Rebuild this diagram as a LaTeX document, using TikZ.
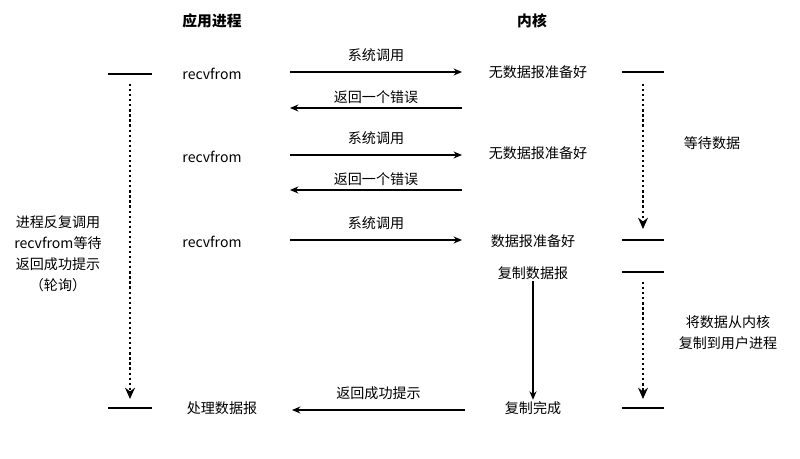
\documentclass[tikz,border=0pt]{standalone}
\usepackage{fontspec}
\setmainfont{Noto Sans CJK SC}
\usetikzlibrary{arrows.meta}
\begin{document}
\begin{tikzpicture}[x=0.025cm,y=-0.025cm,
  lbl/.style={font=\fontsize{10}{12}\selectfont,inner sep=1pt},
  hd/.style={font=\fontsize{10.5}{12}\selectfont\bfseries},
  tick/.style={line width=1pt},
  msg/.style={line width=0.8pt,-{Stealth[length=6pt,width=5pt]}},
  wait/.style={line width=1.6pt,dotted,-{Stealth[length=8pt,width=7pt]}}]
\useasboundingbox (0,0) rectangle (800,459);
\node[hd] (h1) at (212,21) {应用进程};
\node[hd] (h2) at (532,21) {内核};
% ticks
\coordinate (l1a) at (108,74); \coordinate (l1b) at (152,74);
\coordinate (l2a) at (108,408); \coordinate (l2b) at (152,408);
\draw[tick] (l1a) -- (l1b); \draw[tick] (l2a) -- (l2b);
\coordinate (r1a) at (622,72); \coordinate (r1b) at (664,72);
\coordinate (r2a) at (622,240); \coordinate (r2b) at (664,240);
\coordinate (r3a) at (622,272); \coordinate (r3b) at (664,272);
\coordinate (r4a) at (622,408); \coordinate (r4b) at (664,408);
\foreach \n in {1,2,3,4}{\draw[tick] (r\n a) -- (r\n b);}
% waits
\coordinate (w1s) at (130,84); \coordinate (w1e) at (130,399);
\coordinate (w2s) at (643,84); \coordinate (w2e) at (643,229);
\coordinate (w3s) at (643,282); \coordinate (w3e) at (643,399);
\draw[wait] (w1s) -- (w1e);
\draw[wait] (w2s) -- (w2e);
\draw[wait] (w3s) -- (w3e);
% left texts
\node[lbl] (a1) at (212,74) {recvfrom};
\node[lbl] (a2) at (212,157) {recvfrom};
\node[lbl] (a3) at (212,242) {recvfrom};
\node[lbl] (a4) at (222,408) {处理数据报};
\node[lbl,align=center] (poll) at (58,254) {进程反复调用\\[3pt]recvfrom等待\\[3pt]返回成功提示\\[3pt]（轮询）};
% right texts
\node[lbl] (k1) at (538,72) {无数据报准备好};
\node[lbl] (k2) at (538,153) {无数据报准备好};
\node[lbl] (k3) at (533,241) {数据报准备好};
\node[lbl] (k4) at (533,273) {复制数据报};
\node[lbl] (k5) at (533,408) {复制完成};
\node[lbl] (wd) at (712,143) {等待数据};
\node[lbl,align=center] (cp) at (728,333) {将数据从内核\\[3pt]复制到用户进程};
% messages
\coordinate (m1s) at (290,72); \coordinate (m1e) at (462,72);
\coordinate (m2s) at (462,108); \coordinate (m2e) at (290,108);
\coordinate (m3s) at (290,155); \coordinate (m3e) at (462,155);
\coordinate (m4s) at (462,190); \coordinate (m4e) at (290,190);
\coordinate (m5s) at (290,240); \coordinate (m5e) at (462,240);
\coordinate (m6s) at (465,410); \coordinate (m6e) at (292,410);
\draw[msg] (m1s) -- node[lbl,above=6pt] {系统调用} (m1e);
\draw[msg] (m2s) -- node[lbl,above=2pt] {返回一个错误} (m2e);
\draw[msg] (m3s) -- node[lbl,above=6pt] {系统调用} (m3e);
\draw[msg] (m4s) -- node[lbl,above=2pt] {返回一个错误} (m4e);
\draw[msg] (m5s) -- node[lbl,above=6pt] {系统调用} (m5e);
\draw[msg] (m6s) -- node[lbl,above=6pt] {返回成功提示} (m6e);
\draw[msg] (k4) -- (k5);
\end{tikzpicture}
\end{document}
